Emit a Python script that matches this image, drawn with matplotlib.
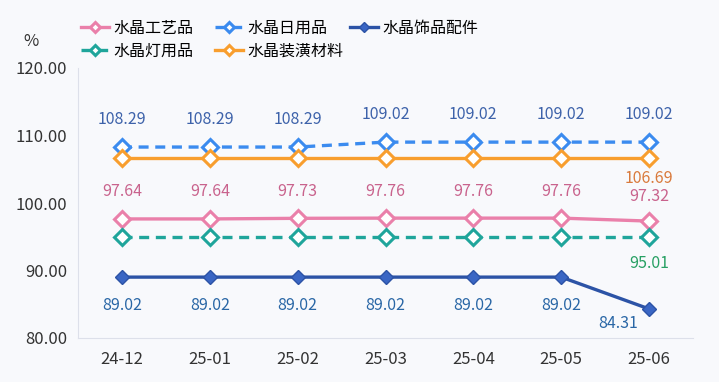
import matplotlib.pyplot as plt

plt.rcParams['font.family'] = ['Noto Sans CJK SC', 'DejaVu Sans']

months = ['24-12', '25-01', '25-02', '25-03', '25-04', '25-05', '25-06']
gongyi = [97.64, 97.64, 97.73, 97.76, 97.76, 97.76, 97.32]
riyong = [108.29, 108.29, 108.29, 109.02, 109.02, 109.02, 109.02]
shipin = [89.02, 89.02, 89.02, 89.02, 89.02, 89.02, 84.31]
dengyong = [95.01, 95.01, 95.01, 95.01, 95.01, 95.01, 95.01]
zhuanghuang = [106.69, 106.69, 106.69, 106.69, 106.69, 106.69, 106.69]

bg = '#f8f9fc'
fig = plt.figure(figsize=(7.19, 3.82), dpi=100, facecolor=bg)
ax = fig.add_axes([78/719, 1-338/382, (693-78)/719, (338-68)/382])
ax.set_facecolor(bg)
x = list(range(len(months)))

lw = 2.4
l1, = ax.plot(x, gongyi, color='#ea80aa', lw=lw, marker='D', ms=8, mfc='white', mew=2.2, label='水晶工艺品')
l2, = ax.plot(x, riyong, color='#3b8bef', lw=lw, ls=(0, (3, 2)), marker='D', ms=8, mfc='white', mew=2.2, label='水晶日用品')
l3, = ax.plot(x, shipin, color='#2c53a6', lw=lw, marker='D', ms=7.5, mfc='#3a66c4', mew=1, label='水晶饰品配件')
l4, = ax.plot(x, dengyong, color='#1fa59b', lw=lw, ls=(0, (3, 2)), marker='D', ms=8, mfc='white', mew=2.2, label='水晶灯用品')
l5, = ax.plot(x, zhuanghuang, color='#f89e2e', lw=lw, marker='D', ms=8, mfc='white', mew=2.2, label='水晶装潢材料')

fs = 11.5
for i in range(len(months)):
    ax.text(i, riyong[i] + 4.1, f'{riyong[i]:.2f}', color='#3d62aa', ha='center', va='center', fontsize=fs)
    if i < 6:
        ax.text(i, gongyi[i] + 4.0, f'{gongyi[i]:.2f}', color='#c9638d', ha='center', va='center', fontsize=fs)
        ax.text(i, shipin[i] - 4.2, f'{shipin[i]:.2f}', color='#2a67a6', ha='center', va='center', fontsize=fs)
ax.text(6, gongyi[6] + 3.6, f'{gongyi[6]:.2f}', color='#c9638d', ha='center', va='center', fontsize=fs)
ax.text(6, zhuanghuang[6] - 3.1, f'{zhuanghuang[6]:.2f}', color='#d97a3c', ha='center', va='center', fontsize=fs)
ax.text(6, dengyong[6] - 4.0, f'{dengyong[6]:.2f}', color='#27a063', ha='center', va='center', fontsize=fs)
ax.text(6 - 0.35, shipin[6] - 2.1, f'{shipin[6]:.2f}', color='#2a67a6', ha='center', va='center', fontsize=fs)

ax.set_xlim(-0.5, 6.5)
ax.set_ylim(80, 120)
ax.set_yticks([80, 90, 100, 110, 120])
ax.set_yticklabels([f'{v:.2f}' for v in [80, 90, 100, 110, 120]])
ax.set_xticks(x)
ax.set_xticklabels(months)
ax.tick_params(length=0, labelsize=12, colors='#333333')
ax.tick_params(axis='x', pad=9)
ax.tick_params(axis='y', pad=8)
for s in ['top', 'right']:
    ax.spines[s].set_visible(False)
for s in ['left', 'bottom']:
    ax.spines[s].set_color('#dde0ea')
fig.text(31/719, 1-42/382, '%', fontsize=12, color='#333333', ha='center', va='center')

# one legend per column so columns sit at fixed x positions
cols = [([l1, l4], 81), ([l2, l5], 215), ([l3], 350)]
for hs, px in cols:
    lg = fig.legend(hs, [h.get_label() for h in hs], loc='upper left',
                    bbox_to_anchor=(px/719, 1-20/382), frameon=False, fontsize=11.5,
                    handlelength=1.75, handletextpad=0.3, labelspacing=0.35,
                    borderpad=0, borderaxespad=0, markerscale=0.65)
plt.savefig('out.png', dpi=100, facecolor=bg)
